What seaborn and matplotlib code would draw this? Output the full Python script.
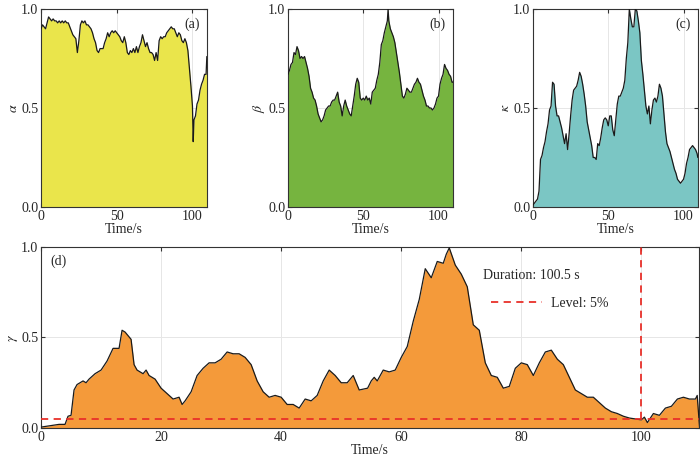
import numpy as np
import pandas as pd
import seaborn as sns
import matplotlib.pyplot as plt

# --- data ---
t_a = list(range(0, 101)) + [100.5, 101, 102, 103, 104, 105, 106, 107, 108, 109, 109.5]
alpha = [0.90, 0.92, 0.91, 0.90, 0.93, 0.96, 0.95, 0.94, 0.95, 0.94, 0.94, 0.93, 0.94, 0.93, 0.94,
         0.93, 0.94, 0.93, 0.93, 0.91, 0.89, 0.87, 0.86, 0.85, 0.78, 0.84, 0.92, 0.94, 0.93, 0.94,
         0.92, 0.92, 0.91, 0.90, 0.88, 0.85, 0.83, 0.79, 0.78, 0.80, 0.80, 0.80, 0.83, 0.85, 0.88,
         0.86, 0.88, 0.89, 0.88, 0.89, 0.88, 0.87, 0.86, 0.84, 0.83, 0.86, 0.83, 0.78, 0.77, 0.79,
         0.78, 0.80, 0.78, 0.81, 0.78, 0.81, 0.83, 0.87, 0.84, 0.81, 0.83, 0.80, 0.78, 0.78, 0.77,
         0.74, 0.78, 0.74, 0.84, 0.86, 0.85, 0.86, 0.86, 0.88, 0.89, 0.90, 0.91, 0.90, 0.90, 0.88,
         0.86, 0.88, 0.87, 0.84, 0.83, 0.85, 0.83, 0.79, 0.70, 0.61, 0.51,
         0.33, 0.44, 0.46, 0.52, 0.54, 0.59, 0.62, 0.64, 0.67, 0.67, 0.76]

t_b = list(range(0, 67)) + [66.5] + list(range(67, 110)) + [109.5]
t_b = sorted(t_b)
beta = [0.67, 0.69, 0.72, 0.73, 0.78, 0.77, 0.81, 0.79, 0.75, 0.76, 0.75, 0.76, 0.73, 0.70, 0.66,
        0.60, 0.58, 0.55, 0.54, 0.51, 0.47, 0.45, 0.43, 0.44, 0.46, 0.49, 0.50, 0.51, 0.51, 0.53,
        0.54, 0.54, 0.56, 0.58, 0.53, 0.51, 0.46, 0.51, 0.54, 0.51, 0.49, 0.47, 0.46, 0.51, 0.56,
        0.62, 0.65, 0.63, 0.55, 0.54, 0.55, 0.54, 0.56, 0.54, 0.55, 0.52, 0.58, 0.59, 0.60, 0.64,
        0.67, 0.73, 0.82, 0.84, 0.88, 0.91, 0.94, 1.00, 0.94, 0.90, 0.88, 0.86, 0.83, 0.78, 0.73,
        0.68, 0.62, 0.56, 0.55, 0.57, 0.60, 0.59, 0.58, 0.58, 0.60, 0.62, 0.63, 0.65, 0.63, 0.62,
        0.59, 0.56, 0.54, 0.51, 0.51, 0.50, 0.50, 0.49, 0.50, 0.52, 0.55, 0.56, 0.62, 0.65, 0.67,
        0.72, 0.70, 0.69, 0.67, 0.66, 0.63, 0.63]

t_c = list(range(0, 110)) + [109.5]
kappa = [0.01, 0.02, 0.03, 0.04, 0.08, 0.24, 0.26, 0.30, 0.33, 0.38, 0.42, 0.49, 0.51, 0.63, 0.62,
         0.51, 0.46, 0.46, 0.43, 0.40, 0.36, 0.32, 0.37, 0.29, 0.37, 0.46, 0.54, 0.59, 0.60, 0.61,
         0.64, 0.68, 0.66, 0.62, 0.57, 0.51, 0.43, 0.39, 0.35, 0.31, 0.25, 0.25, 0.24, 0.32, 0.31,
         0.35, 0.40, 0.44, 0.45, 0.44, 0.41, 0.46, 0.46, 0.39, 0.36, 0.44, 0.52, 0.56, 0.56, 0.58,
         0.60, 0.64, 0.75, 0.83, 1.00, 0.95, 0.91, 0.91, 1.00, 0.99, 0.94, 0.88, 0.74, 0.67, 0.59,
         0.51, 0.47, 0.51, 0.42, 0.49, 0.54, 0.55, 0.53, 0.56, 0.62, 0.60, 0.56, 0.47, 0.38, 0.32,
         0.30, 0.28, 0.25, 0.22, 0.19, 0.17, 0.14, 0.13, 0.12, 0.13, 0.14, 0.17, 0.22, 0.25, 0.29,
         0.30, 0.31, 0.30, 0.29, 0.27, 0.25]

t_d = [0, 1, 2, 3, 4, 4.5, 5, 5.5, 6, 7, 7.5, 8, 9, 10, 11, 12, 13, 13.5, 14, 15, 15.5, 16, 17,
       17.5, 18, 19, 20, 21, 22, 23, 23.5, 24, 25, 26, 27, 28, 29, 30, 31, 32, 33, 34, 35, 36, 37,
       38, 39, 40, 41, 42, 43, 44, 45, 46, 47, 48, 49, 50, 51, 52, 53, 54.4, 55, 55.5, 56, 57, 58,
       59, 60, 61, 62, 63, 64, 65, 66, 67, 67.5, 68, 69, 70, 71, 72, 73, 74, 75, 76, 77, 78, 79,
       80, 81, 82, 83, 84, 85, 86, 87, 88, 89, 90, 91, 92, 93, 94, 95, 96, 97, 98, 99, 100, 100.5,
       101, 102, 103, 104, 105, 106, 107, 108, 109, 109.3, 109.7]
gamma = [0.005, 0.01, 0.015, 0.02, 0.02, 0.065, 0.07, 0.21, 0.24, 0.26, 0.25, 0.27, 0.30, 0.32,
         0.37, 0.44, 0.44, 0.54, 0.53, 0.49, 0.35, 0.32, 0.30, 0.32, 0.29, 0.27, 0.22, 0.19, 0.16,
         0.17, 0.13, 0.15, 0.20, 0.29, 0.33, 0.36, 0.36, 0.38, 0.42, 0.41, 0.41, 0.39, 0.35, 0.26,
         0.20, 0.17, 0.18, 0.17, 0.13, 0.13, 0.11, 0.16, 0.15, 0.18, 0.26, 0.32, 0.29, 0.25, 0.25,
         0.29, 0.21, 0.22, 0.26, 0.28, 0.26, 0.32, 0.31, 0.32, 0.39, 0.45, 0.59, 0.71, 0.88, 0.83,
         0.92, 0.91, 0.96, 0.995, 0.90, 0.85, 0.78, 0.57, 0.54, 0.36, 0.29, 0.28, 0.22, 0.23, 0.33,
         0.36, 0.35, 0.29, 0.36, 0.42, 0.43, 0.38, 0.35, 0.28, 0.21, 0.19, 0.17, 0.17, 0.14, 0.11,
         0.09, 0.08, 0.065, 0.055, 0.05, 0.045, 0.06, 0.03, 0.08, 0.07, 0.11, 0.12, 0.16, 0.17, 0.16,
         0.16, 0.18, 0.0]

level = 0.05
duration_end = 100

sns.set_theme(style="ticks")
plt.rcParams['font.family'] = ['Liberation Serif', 'DejaVu Serif']
plt.rcParams['mathtext.fontset'] = 'stix'
plt.rcParams['font.size'] = 10

fig = plt.figure(figsize=(7, 4.62), dpi=100)
ax_a = fig.add_axes([0.0586, 0.552, 0.2371, 0.4285])
ax_b = fig.add_axes([0.4114, 0.552, 0.2357, 0.4285])
ax_c = fig.add_axes([0.7614, 0.552, 0.2357, 0.4285])
ax_d = fig.add_axes([0.0586, 0.0736, 0.94, 0.3918])

panels = [
    (ax_a, t_a, alpha, '#EAE54B', r'$\alpha$', '(a)'),
    (ax_b, t_b, beta, '#76B43F', r'$\beta$', '(b)'),
    (ax_c, t_c, kappa, '#7BC6C4', r'$\kappa$', '(c)'),
    (ax_d, t_d, gamma, '#F49A3A', r'$\gamma$', '(d)'),
]

for ax, t, v, col, lab, tag in panels:
    df = pd.DataFrame({'t': t, 'v': v})
    ax.fill_between(df.t, 0, df.v, color=col, lw=0, zorder=2)
    sns.lineplot(data=df, x='t', y='v', ax=ax, color='#1a1a1a', lw=0.9, zorder=3)
    ax.set_xlim(0, 109.6)
    ax.set_ylim(0, 1)
    ax.set_yticks([0, 0.5, 1.0])
    ax.set_yticklabels(['0.0', '0.5', '1.0'])
    ax.grid(True, color='#e6e6e6', lw=0.7, zorder=0)
    ax.tick_params(direction='in', length=3, width=0.8, top=True, right=True,
                   labelsize=10, pad=2, color='#333333')
    for s in ax.spines.values():
        s.set_linewidth(0.8)
        s.set_color('#333333')
    ax.set_xlabel('Time/s', fontsize=10, labelpad=0)
    ax.set_ylabel(lab, fontsize=10, labelpad=1)

for ax, tag in [(ax_a, '(a)'), (ax_b, '(b)'), (ax_c, '(c)')]:
    ax.set_xticks([0, 50, 100])
    ax.text(0.955, 0.925, tag, transform=ax.transAxes, ha='right', va='center', fontsize=10, zorder=5)

ax_d.set_xticks([0, 20, 40, 60, 80, 100])
ax_d.text(0.014, 0.92, '(d)', transform=ax_d.transAxes, ha='left', va='center', fontsize=10, zorder=5)
ax_d.axhline(level, color='#E8302A', ls='--', lw=1.3, dashes=(4, 3), zorder=4, label='Level: 5%')
ax_d.plot([duration_end, duration_end], [level, 1.0], color='#E8302A', ls='--', lw=1.3,
          dashes=(4, 3), zorder=4)
ax_d.text(0.672, 0.84, 'Duration: 100.5 s', transform=ax_d.transAxes, ha='left', va='center',
          fontsize=10)
ax_d.legend(loc='center left', bbox_to_anchor=(0.684, 0.69), frameon=False, fontsize=10,
            handlelength=3.7, handletextpad=0.6, borderpad=0, borderaxespad=0)

fig.savefig('out.png', dpi=100)
